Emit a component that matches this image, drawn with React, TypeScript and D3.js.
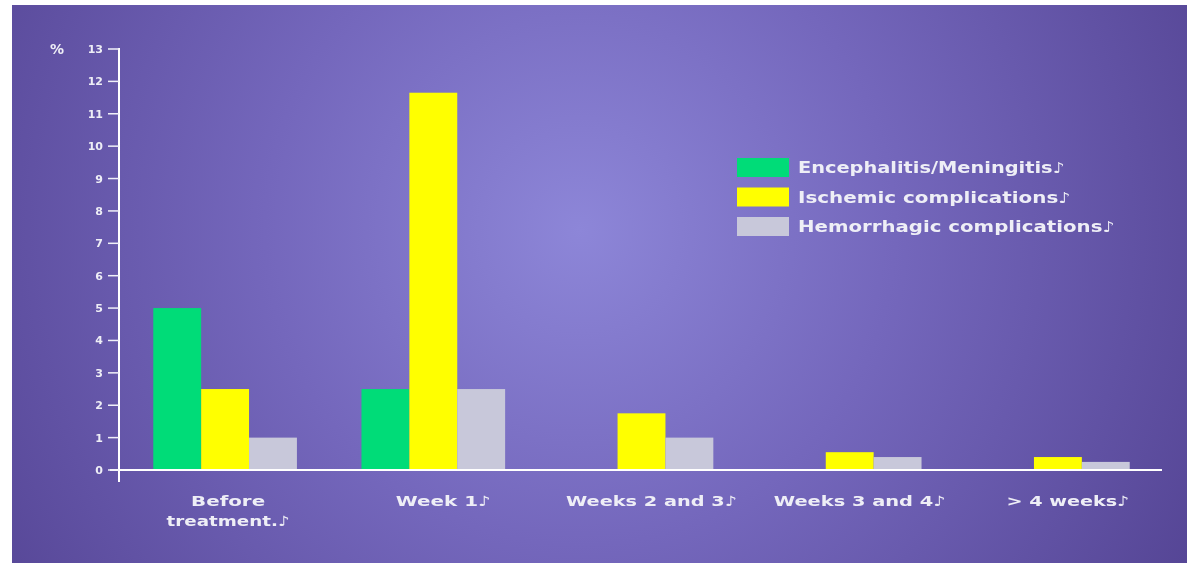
import React from "react";
import * as d3 from "d3";

const categories = ["Before treatment", "Week 1", "Weeks 2 and 3", "Weeks 3 and 4", "> 4 weeks"];
const categoryLines = [["Before", "treatment.\u266A"], ["Week 1\u266A"], ["Weeks 2 and 3\u266A"], ["Weeks 3 and 4\u266A"], ["> 4 weeks\u266A"]];
const seriesNames = ["Encephalitis/Meningitis", "Ischemic complications", "Hemorrhagic complications"];
const encephalitis = [5, 2.5, 0, 0, 0];
const ischemic = [2.5, 11.65, 1.75, 0.55, 0.4];
const hemorrhagic = [1, 2.5, 1, 0.4, 0.25];
const yTicks = [0, 1, 2, 3, 4, 5, 6, 7, 8, 9, 10, 11, 12, 13];
const colors = ["#00dc78", "#ffff00", "#c8c8da"];

const W = 1194;
const H = 563;

export default function App() {
  const series = [encephalitis, ischemic, hemorrhagic];
  const x0 = d3.scaleBand<string>().domain(categories).range([121, 1162]).paddingInner(0.31).paddingOuter(0.155);
  const x1 = d3.scaleBand<string>().domain(seriesNames).range([0, x0.bandwidth()]);
  const y = d3.scaleLinear().domain([0, 13]).range([470, 49]);
  const font = "'DejaVu Sans', Verdana, sans-serif";
  const labelWidths = [[74, 123], [95], [171], [172], [123]];
  const legendWidths = [267, 273, 317];

  return (
    <div style={{ position: "absolute", left: 0, top: 0, width: W, height: H, overflow: "hidden" }}>
      <svg width={W} height={H} style={{ display: "block" }}>
        <defs>
          <radialGradient id="bg" cx="580" cy="230" r="700" gradientUnits="userSpaceOnUse">
            <stop offset="0" stopColor="#8d86d8" />
            <stop offset="0.45" stopColor="#7467bc" />
            <stop offset="1" stopColor="#554595" />
          </radialGradient>
          <filter id="soft" x="-5%" y="-20%" width="110%" height="140%">
            <feGaussianBlur stdDeviation="0.4" />
          </filter>
        </defs>
        <rect x={0} y={0} width={W} height={H} fill="#ffffff" />
        <rect x={12} y={5} width={1175} height={H - 5} fill="url(#bg)" />

        {categories.map((c, i) => (
          <g key={c} transform={`translate(${x0(c)},0)`}>
            {seriesNames.map((s, j) => {
              const v = series[j][i];
              if (!v) return null;
              return (
                <rect key={s} x={x1(s)} y={y(v)} width={x1.bandwidth()} height={y(0) - y(v)} fill={colors[j]} />
              );
            })}
          </g>
        ))}

        {/* axes */}
        <line x1={119} x2={119} y1={48} y2={482} stroke="#ffffff" strokeWidth={2} />
        <line x1={110} x2={1162} y1={470} y2={470} stroke="#ffffff" strokeWidth={2} />
        {yTicks.map((t) => (
          <g key={t} filter="url(#soft)">
            <line x1={108} x2={119} y1={y(t)} y2={y(t)} stroke="#f0f0f8" strokeWidth={1.5} />
            <text x={103} y={y(t) + 4} textAnchor="end" fill="#eeeef6" fontFamily={font} fontWeight="bold" fontSize={11}>
              {t}
            </text>
          </g>
        ))}
        <text x={50} y={y(13) + 5} fill="#eeeef6" fontFamily={font} fontWeight="bold" fontSize={14} filter="url(#soft)">
          %
        </text>

        {/* x labels */}
        {categories.map((c, i) => {
          const cx = (x0(c) as number) + x0.bandwidth() / 2 + (i === 0 ? 3 : 10);
          return categoryLines[i].map((ln, k) => (
            <text
              key={c + k}
              x={cx}
              y={506 + k * 20}
              textAnchor="middle"
              fill="#eeeef6"
              fontFamily={font}
              fontWeight="bold"
              fontSize={14}
              textLength={labelWidths[i][k]}
              lengthAdjust="spacingAndGlyphs"
              filter="url(#soft)"
            >
              {ln}
            </text>
          ));
        })}

        {/* legend */}
        {seriesNames.map((s, j) => (
          <g key={s} transform={`translate(737,${158 + j * 29.5})`}>
            <rect x={0} y={0} width={52} height={19} fill={colors[j]} />
            <text
              x={61}
              y={15}
              fill="#eeeef6"
              fontFamily={font}
              fontWeight="bold"
              fontSize={15}
              textLength={legendWidths[j]}
              lengthAdjust="spacingAndGlyphs"
              filter="url(#soft)"
            >
              {s + "\u266A"}
            </text>
          </g>
        ))}
      </svg>
    </div>
  );
}
